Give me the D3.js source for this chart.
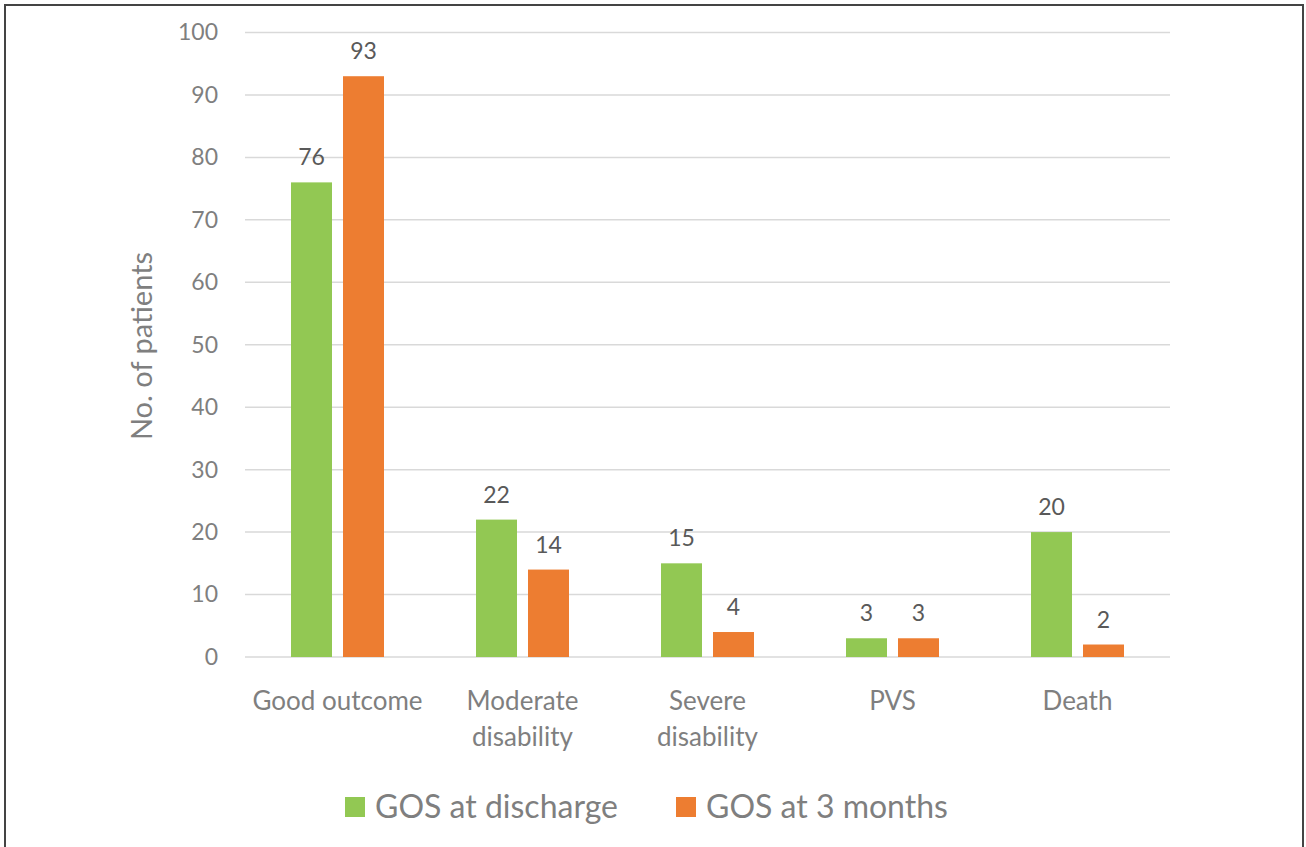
<!DOCTYPE html>
<html>
<head>
<meta charset="utf-8">
<script src="https://cdn.jsdelivr.net/npm/d3@7/dist/d3.min.js"></script>
<style>
  html, body { margin: 0; padding: 0; background: #fff; }
  svg { display: block; font-family: Lato, "Open Sans", sans-serif; }
</style>
</head>
<body>
<svg id="chart" width="1306" height="847"></svg>
<script>
const categories = [["Good outcome"], ["Moderate", "disability"], ["Severe", "disability"], ["PVS"], ["Death"]];
const categoryKeys = ["Good outcome", "Moderate disability", "Severe disability", "PVS", "Death"];
const seriesNames = ["GOS at discharge", "GOS at 3 months"];
const gosDischarge = [76, 22, 15, 3, 20];
const gos3Months = [93, 14, 4, 3, 2];
const yTicks = [0, 10, 20, 30, 40, 50, 60, 70, 80, 90, 100];
const colors = ["#92C853", "#ED7D31"];

(function () {
const svg = d3.select("#chart");

// border
svg.append("rect").attr("x", 5).attr("y", 5).attr("width", 1298).attr("height", 860)
  .attr("fill", "none").attr("stroke", "#444").attr("stroke-width", 2);

const pLeft = 245, pRight = 1170, pTop = 32.5, pBottom = 657;
const y = d3.scaleLinear().domain([0, 100]).range([pBottom, pTop]);
const x0 = d3.scaleBand().domain(categoryKeys).range([pLeft, pRight]).padding(0);
const x1 = d3.scaleBand().domain(seriesNames).range([46, 139]).paddingInner(11 / 52).paddingOuter(0);

// gridlines
svg.append("g").selectAll("line").data(yTicks).join("line")
  .attr("x1", pLeft).attr("x2", pRight)
  .attr("y1", d => y(d)).attr("y2", d => y(d))
  .attr("stroke", "#d9d9d9").attr("stroke-width", 1.5);

// y axis labels
const yAxis = d3.axisLeft(y).tickValues(yTicks).tickSize(0).tickPadding(0);
const gy = svg.append("g").attr("transform", `translate(218,0)`).call(yAxis);
gy.select(".domain").remove();
gy.selectAll("text").attr("fill", "#7f7f7f").style("font-size", "23px")
  .style("font-family", "Lato, 'Open Sans', sans-serif");

// y title
svg.append("text").attr("transform", `translate(152,346) rotate(-90)`)
  .attr("text-anchor", "middle").attr("fill", "#7f7f7f").style("font-size", "29px")
  .text("No. of patients");

// bars
const seriesData = [gosDischarge, gos3Months];
seriesNames.forEach((s, si) => {
  const g = svg.append("g");
  g.selectAll("rect").data(seriesData[si]).join("rect")
    .attr("x", (d, i) => x0(categoryKeys[i]) + x1(s))
    .attr("y", d => y(d))
    .attr("width", x1.bandwidth())
    .attr("height", d => y(0) - y(d))
    .attr("fill", colors[si]);
  g.selectAll("text").data(seriesData[si]).join("text")
    .attr("x", (d, i) => x0(categoryKeys[i]) + x1(s) + x1.bandwidth() / 2)
    .attr("y", d => y(d) - 17)
    .attr("text-anchor", "middle").attr("fill", "#595959").style("font-size", "23px")
    .text(d => d);
});

// category labels
const cg = svg.append("g");
categories.forEach((lines, i) => {
  const t = cg.append("text").attr("text-anchor", "middle").attr("fill", "#7f7f7f")
    .style("font-size", "26px");
  lines.forEach((ln, li) => {
    t.append("tspan").attr("x", x0(categoryKeys[i]) + x0.bandwidth() / 2)
      .attr("y", 710 + li * 36).text(ln);
  });
});

// legend
const legendX = [345, 676];
const lg = svg.append("g");
seriesNames.forEach((s, i) => {
  lg.append("rect").attr("x", legendX[i]).attr("y", 797).attr("width", 20).attr("height", 20).attr("fill", colors[i]);
  lg.append("text").attr("x", legendX[i] + 30).attr("y", 818).attr("fill", "#7f7f7f")
    .style("font-size", "32px").text(s);
});
})();
</script>
</body>
</html>
